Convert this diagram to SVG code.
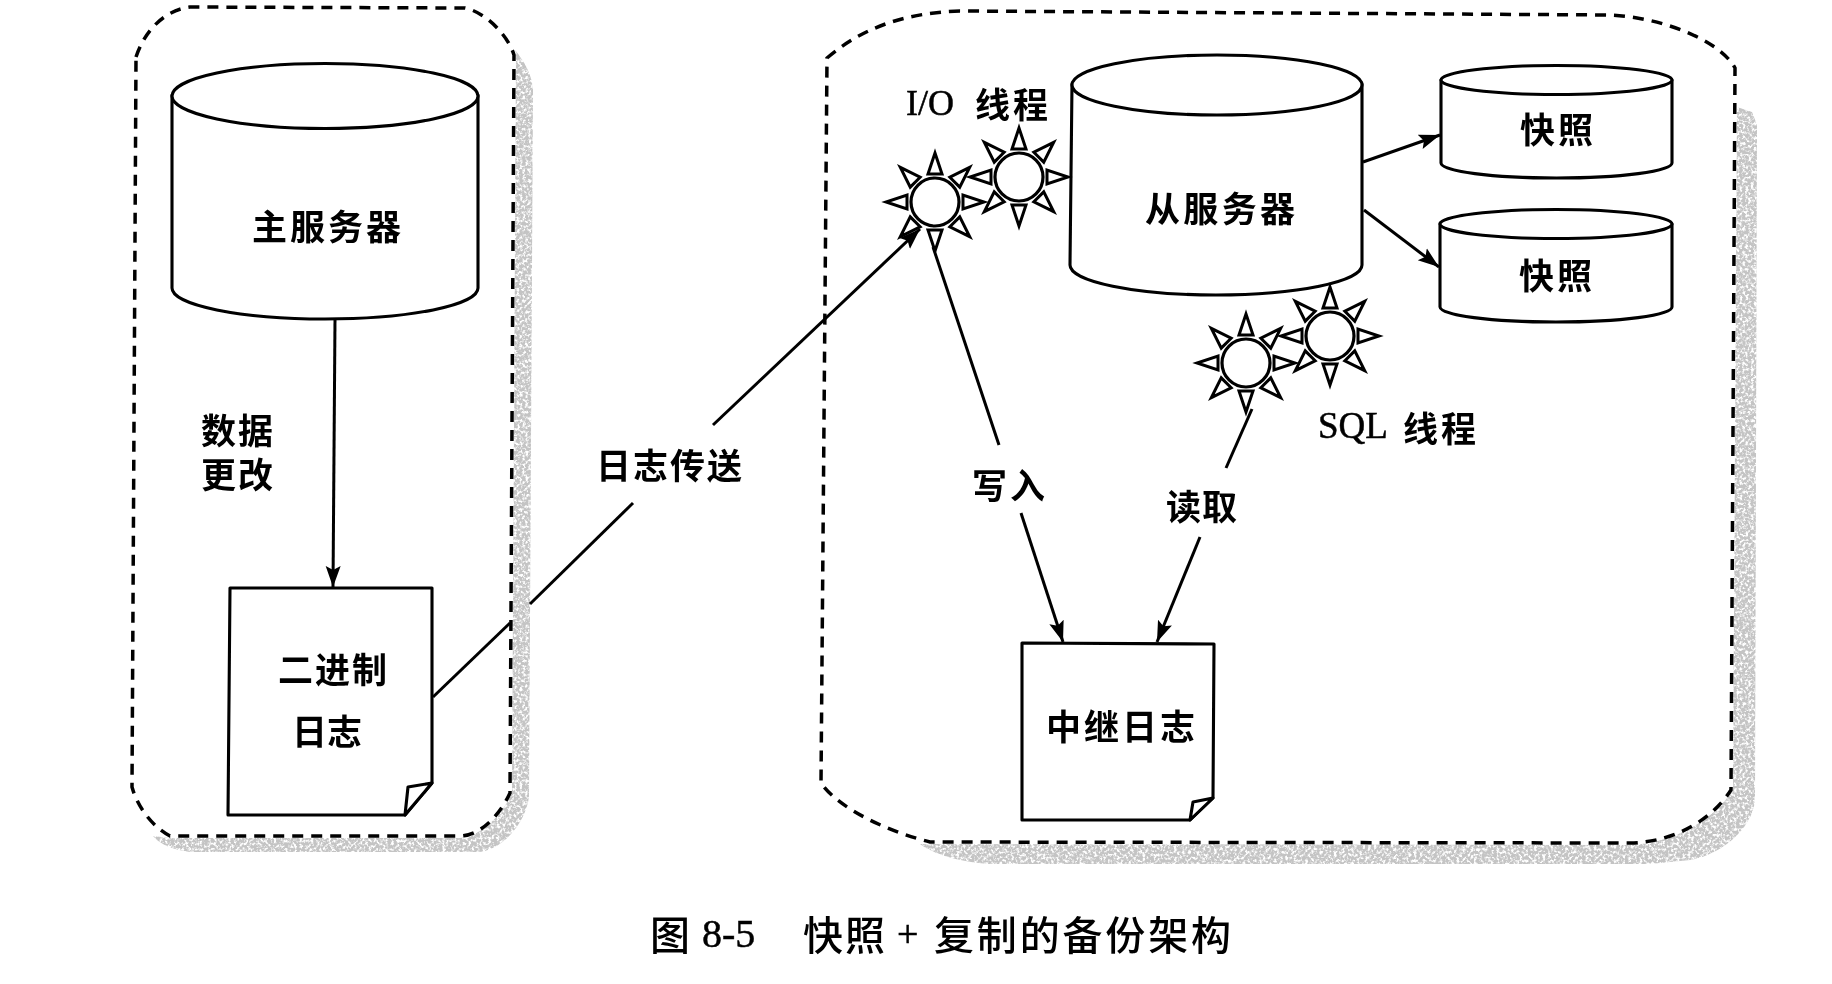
<svg xmlns="http://www.w3.org/2000/svg" xmlns:xlink="http://www.w3.org/1999/xlink" width="1832" height="984" viewBox="0 0 1832 984">
<style>
.ln{fill:none;stroke:#000;stroke-width:3}
.nd{fill:#fff;stroke:#000;stroke-width:3.1;stroke-linejoin:round}
.dash{fill:none;stroke:#000;stroke-width:3.5;stroke-dasharray:11 8}
.sh{fill:#c4c4c4;stroke:none;filter:url(#grain)}
.ray{fill:#fff;stroke:#000;stroke-width:3;stroke-linejoin:miter}
text{font-family:"Noto Sans CJK SC","Liberation Serif",serif;font-size:35px;font-weight:700;fill:#000}
.lat{font-family:"Liberation Serif","Noto Sans CJK SC",serif;font-weight:400;stroke:#000;stroke-width:.5}
.cap{font-size:40px;font-weight:500}
</style>
<defs>
<filter id="grain" x="-3%" y="-3%" width="106%" height="106%">
<feTurbulence type="fractalNoise" baseFrequency="0.35" numOctaves="3" seed="5" result="n"/>
<feColorMatrix in="n" type="matrix" values="0 0 0 0 0 0 0 0 0 0 0 0 0 0 0 0 0 0 4 -1.2" result="a"/>
<feComposite in="SourceGraphic" in2="a" operator="in"/>
<feGaussianBlur stdDeviation="0.5"/>
</filter>
<filter id="soft" filterUnits="userSpaceOnUse" x="0" y="0" width="1832" height="984">
<feGaussianBlur stdDeviation="0.5"/>
</filter>
<marker id="ah" markerUnits="userSpaceOnUse" markerWidth="22" markerHeight="18" viewBox="0 0 22 18" refX="21" refY="9" orient="auto">
<path d="M0,1.500 L21,9 L0,16.500 L4,9 Z" fill="#000"/>
</marker>
<polygon id="r" class="ray" points="-7,-28 7,-28 0,-49"/>
<g id="sun">
<use xlink:href="#r" href="#r"/>
<use xlink:href="#r" href="#r" transform="rotate(45)"/>
<use xlink:href="#r" href="#r" transform="rotate(90)"/>
<use xlink:href="#r" href="#r" transform="rotate(135)"/>
<use xlink:href="#r" href="#r" transform="rotate(180)"/>
<use xlink:href="#r" href="#r" transform="rotate(225)"/>
<use xlink:href="#r" href="#r" transform="rotate(270)"/>
<use xlink:href="#r" href="#r" transform="rotate(315)"/>
<circle r="24" fill="#fff" stroke="#000" stroke-width="3.2"/>
</g>
</defs>
<rect width="1832" height="984" fill="#fff"/>
<g filter="url(#soft)">
<g id="master-zone">
<path class="sh" d="M515,50 C525,62 532,75 533,90 L529,797 C525,825 500,852 477,852 L190,852 C175,850 160,845 153,836 L170,838 L460,838 C482,836 502,815 512,793 L516,55 Z"/>
<path class="dash" d="M136,57 C145,30 165,10 190,7 L465,8 C485,12 508,35 514,55 L510,793 C500,815 480,836 460,836 L170,836 C150,825 137,805 132,787 Z"/>
</g>
<g id="slave-zone">
<path class="sh" d="M1737,107 L1752,112 L1757,125 L1755,800 C1752,830 1720,855 1690,860 L1650,864 L990,864 C960,862 935,855 920,844 L1630,845 C1680,843 1717,815 1733,790 L1737,107 Z"/>
<path class="dash" d="M827,58 C860,30 900,13 960,11 L1610,15 C1660,17 1720,40 1735,68 L1731,790 C1715,815 1680,842 1630,843 L930,842 C890,832 840,810 821,783 Z"/>
</g>

<g id="connectors">
<path class="ln" d="M335,319 L333,587" marker-end="url(#ah)"/>
<path class="ln" d="M433,697 L510,623"/>
<path class="ln" d="M530,604 L633,503"/>
<path class="ln" d="M713,425 L920,229" marker-end="url(#ah)"/>
<path class="ln" d="M933,247 L999,445"/>
<path class="ln" d="M1021,513 L1063,642" marker-end="url(#ah)"/>
<path class="ln" d="M1252,409 L1226,468"/>
<path class="ln" d="M1200,537 L1157,642" marker-end="url(#ah)"/>
<path class="ln" d="M1363,162 L1440,135" marker-end="url(#ah)"/>
<path class="ln" d="M1364,210 L1439,267" marker-end="url(#ah)"/>
</g>

<g id="master">
<path class="nd" d="M172,95 L172,288 A153,31 0 0 0 478,288 L478,95 Z"/>
<ellipse class="nd" cx="325" cy="96" rx="153" ry="32.500"/>
<text x="252" y="240" textLength="149">主服务器</text>
</g>
<g id="binlog">
<path class="nd" d="M230,588 L432,588 L432,783 L405,815 L228,815 Z"/>
<path class="nd" d="M405,815 L408,787 L432,783 Z"/>
<text x="278" y="683" textLength="109">二进制</text>
<text x="292" y="745" textLength="70">日志</text>
</g>
<g id="slave">
<path class="nd" d="M1072,84 L1070,265 A146,30 0 0 0 1362,265 L1362,84 Z"/>
<ellipse class="nd" cx="1217" cy="85" rx="145" ry="30"/>
<text x="1145" y="222" textLength="150">从服务器</text>
</g>
<g id="snapshot-1">
<path class="nd" d="M1441,80 L1441,163 A115.500,15 0 0 0 1672,163 L1672,80 Z"/>
<ellipse class="nd" cx="1556.500" cy="80" rx="115.500" ry="14.500"/>
<text x="1520" y="143" textLength="73">快照</text>
</g>
<g id="snapshot-2">
<path class="nd" d="M1440,224 L1440,307 A116,15 0 0 0 1672,307 L1672,224 Z"/>
<ellipse class="nd" cx="1556" cy="224" rx="116" ry="14.500"/>
<text x="1519" y="289" textLength="73">快照</text>
</g>
<g id="relaylog">
<path class="nd" d="M1022,643 L1214,644 L1213,798 L1190,820 L1022,820 Z"/>
<path class="nd" d="M1190,820 L1193,802 L1213,798 Z"/>
<text x="1046" y="740" textLength="149">中继日志</text>
</g>
<g id="io-thread">
<use xlink:href="#sun" href="#sun" x="935" y="202"/>
<use xlink:href="#sun" href="#sun" x="1019" y="177"/>
<text class="lat" x="906" y="115" style="font-size:36px">I/O</text>
<text x="975" y="118" textLength="73">线程</text>
</g>
<g id="sql-thread">
<use xlink:href="#sun" href="#sun" x="1246" y="363"/>
<use xlink:href="#sun" href="#sun" x="1330" y="336"/>
<text class="lat" x="1318" y="438" style="font-size:37px">SQL</text>
<text x="1403" y="442" textLength="73">线程</text>
</g>
<g id="labels">
<text><tspan x="201" y="444" textLength="72">数据</tspan><tspan x="201" y="488" textLength="72">更改</tspan></text>
<text x="596" y="479" textLength="146">日志传送</text>
<text x="972" y="499" textLength="73">写入</text>
<text x="1166" y="520" textLength="71">读取</text>
</g>
<g id="caption">
<text class="cap" x="650" y="950" textLength="36">图</text>
<text class="cap lat" x="702" y="947">8-5</text>
<text class="cap" x="803" y="950" textLength="82">快照</text>
<text class="cap lat" x="897" y="947" style="font-size:38px">+</text>
<text class="cap" x="934" y="950" textLength="297">复制的备份架构</text>
</g>
</g>
</svg>
